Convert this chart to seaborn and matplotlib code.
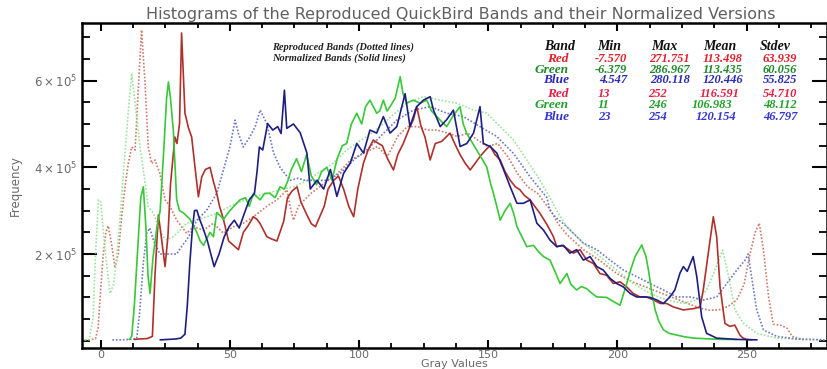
import numpy as np
import pandas as pd
import matplotlib
matplotlib.use("Agg")
import matplotlib.pyplot as plt
import seaborn as sns
from matplotlib.ticker import FixedLocator, FixedFormatter, MultipleLocator

# ---------------- data (frequencies in units of 1e5) ----------------
norm_red_x = [13, 15, 18, 20, 21, 22.3, 23, 24.9, 26, 27, 28.7, 29.5, 30.5, 31.3, 32.6, 34, 35.2, 36.5,
              37.8, 39.1, 40.5, 42.3, 43.5, 44.9, 46, 47.5, 49.5, 51.4, 53.3, 55.2, 57, 59.1, 60.5, 61.7,
              64.3, 66, 68.2, 70.8, 72.3, 74, 76, 77.5, 79.8, 81.5, 83.1, 86.5, 88, 90.2, 92, 94, 96,
              97.9, 99.5, 101.7, 103.5, 105.5, 107.5, 109, 111, 113.3, 115, 117.1, 119.7, 121, 122.3,
              124, 125.5, 127.5, 129.5, 132, 135.2, 137, 139, 141, 143, 145, 146.8, 149, 150.7, 152.5,
              154.6, 156.5, 158.5, 160.5, 162.3, 164, 166.2, 168, 170, 172.5, 173.9, 175.2, 176.5,
              178.5, 180.4, 183, 185.5, 188.1, 190.7, 193.2, 195.8, 198.4, 201, 203.6, 206.1, 208.7,
              211.3, 213.9, 216.5, 219, 221.6, 225.5, 229.4, 232, 233.2, 235.1, 237.1, 238.4, 239.7,
              241.6, 243.5, 245.4, 247.4, 248.6, 250, 252]
norm_red_y = [0.03, 0.04, 0.05, 0.1, 1.5, 2.9, 2.6, 1.71, 2.4, 3.6, 4.7, 4.55, 5.0, 7.1, 5.25, 4.9, 4.7, 4.0,
              3.32, 3.78, 3.95, 4.0, 3.7, 3.4, 3.1, 2.8, 2.3, 2.2, 2.1, 2.5, 2.65, 2.86, 2.8, 2.7,
              2.4, 2.35, 2.3, 2.75, 3.3, 3.45, 3.55, 3.2, 2.9, 2.7, 2.63, 3.1, 3.5, 3.7, 3.8, 3.5, 3.1,
              2.86, 3.5, 4.1, 4.4, 4.63, 4.55, 4.5, 4.2, 3.94, 4.3, 4.55, 4.94, 5.1, 5.4,
              4.94, 4.7, 4.17, 4.55, 4.6, 4.79, 4.55, 4.3, 4.1, 3.94, 4.1, 4.25, 4.4, 4.5, 4.3,
              4.17, 3.9, 3.7, 3.55, 3.48, 3.35, 3.25, 3.1, 2.94, 2.7, 2.55, 2.4, 2.17,
              2.2, 2.13, 2.02, 2.1, 1.86, 1.78, 1.55, 1.51, 1.32, 1.36, 1.24, 1.09, 1.01,
              1.01, 0.94, 0.86, 0.86, 0.78, 0.71, 0.74, 0.78, 1.17, 2.0, 2.86, 2.4, 1.25,
              0.4, 0.33, 0.36, 0.13, 0.06, 0.03, 0.02]

norm_green_x = [11, 12, 13, 14.5, 15.5, 16.5, 17.5, 18.3, 19.1, 20.2, 21.7, 23, 24.5, 25.5, 26.2, 27, 28.1,
                29.4, 30.5, 32, 34.6, 37.2, 38.5, 39.8, 41, 42.3, 43.6, 44.9, 46, 47.5, 50, 51.5, 53.9,
                56, 57.5, 59.1, 61.7, 63.5, 65.5, 67.5, 69.4, 71.1, 72.5, 73.7, 75.8, 77.7, 79.7, 81.5,
                83.5, 85.5, 87.5, 89.5, 91.5, 93.5, 95.2, 97, 99.1, 101, 102.5, 104.2, 106.8, 108,
                109.4, 110.8, 112, 114, 115.9, 117, 118.4, 121, 123.6, 126.2, 128, 130.1, 132, 133.9,
                136.5, 139.1, 140.3, 141.7, 143.5, 145.5, 147.5, 149.4, 151, 152, 153.3, 154.6, 156.5,
                158.5, 160, 161.1, 163, 164.9, 167.5, 169.5, 171.4, 173.9, 175.8, 177.8, 180.4, 182,
                184.2, 186, 188.1, 190, 192, 195.8, 198.5, 201, 203.6, 205.2, 206.8, 209.4, 211, 212,
                213.3, 214.6, 216, 217.8, 220, 223, 226, 229.5, 236, 241, 246]
norm_green_y = [0.03, 0.1, 0.8, 2.3, 3.3, 3.55, 2.6, 1.5, 1.09, 1.9, 2.6, 3.0, 4.5, 5.6, 5.97, 5.6, 4.85,
                3.25, 3.0, 2.95, 2.8, 2.5, 2.3, 2.2, 2.35, 2.5, 2.4, 2.95, 2.9, 2.8, 3.0, 3.1, 3.25,
                3.3, 3.1, 3.4, 3.25, 3.4, 3.4, 3.3, 3.55, 3.5, 3.7, 3.94, 4.2, 3.9, 4.3, 3.8,
                3.6, 3.9, 4.0, 3.7, 4.2, 4.5, 4.55, 5.0, 5.25, 5.0, 5.4, 5.55, 5.25, 5.3,
                5.55, 5.3, 5.4, 5.6, 6.09, 5.7, 5.48, 5.55, 5.48, 5.55, 5.3, 5.17, 5.05, 4.94,
                5.2, 5.4, 5.0, 4.78, 4.6, 4.4, 4.2, 4.01, 3.6, 3.4, 3.1, 2.78, 3.0,
                3.17, 2.9, 2.63, 2.4, 2.17, 2.2, 2.05, 1.94, 1.86, 1.6, 1.32, 1.55, 1.3,
                1.17, 1.25, 1.2, 1.1, 1.01, 1.0, 0.9, 0.82, 1.32, 1.65, 1.94, 2.21, 1.95, 1.63,
                1.1, 0.71, 0.45, 0.25, 0.17, 0.13, 0.09, 0.06, 0.04, 0.03, 0.03]

norm_blue_x = [23, 26, 29, 31, 32.6, 33.5, 34.5, 35.5, 36.3, 37.2, 38.3, 39.4, 41.3, 43.9, 45.8, 47.8, 49.7,
               51.7, 53.6, 55.6, 57.5, 59.5, 60.5, 61.4, 62.7, 64.6, 66.6, 68.5, 69.8, 71.1, 72, 74.6,
               77.2, 79.8, 81.1, 83.7, 86.3, 88.9, 91.4, 94, 96.6, 99.1, 101.7, 104.2, 106.8, 109.4,
               112, 114.6, 117.8, 119.7, 122.3, 124.9, 127.5, 128.8, 131.4, 133.9, 136.5, 139.1, 141.7,
               144.3, 146.8, 148.1, 150.7, 153.3, 155.9, 158.5, 161.1, 163.6, 166.2, 168.8, 171.4,
               173.9, 176.5, 179.1, 181.6, 184.2, 186.8, 189.4, 192, 194.5, 197.1, 199.7, 202.3, 204.9,
               207.4, 210, 212.6, 215.2, 217.8, 220.3, 222.2, 224.2, 225.5, 227, 229.3, 230.7, 232.6,
               234.5, 238.4, 246.2, 254]
norm_blue_y = [0.02, 0.03, 0.04, 0.06, 0.15, 0.8, 1.8, 2.6, 3.0, 3.01, 2.8, 2.63, 2.3, 1.71, 2.0, 2.4, 2.63,
               2.78, 2.6, 2.94, 3.25, 3.4, 3.9, 4.47, 4.4, 5.01, 4.86, 4.94, 4.78, 5.78, 4.9, 5.0,
               4.8, 4.33, 3.5, 3.7, 3.5, 3.95, 3.33, 3.86, 4.1, 4.55, 4.33, 4.86, 4.79, 5.17,
               4.79, 4.94, 5.7, 4.94, 5.4, 5.55, 5.63, 5.32, 4.94, 5.1, 5.32, 4.48, 4.55,
               4.79, 5.4, 4.55, 4.48, 4.33, 3.95, 3.55, 3.17, 3.17, 3.25, 2.71, 2.55,
               2.32, 2.17, 2.2, 2.02, 2.1, 1.86, 1.94, 1.71, 1.63, 1.44, 1.32, 1.24, 1.09,
               1.01, 1.01, 1.0, 0.94, 0.86, 1.01, 1.17, 1.56, 1.71, 1.6, 1.94, 1.48, 0.55,
               0.17, 0.06, 0.03, 0.02]

repr_red_x = [-7.5, -4, -2, -1, 0, 1, 2, 2.9, 4, 5.5, 6.8, 8, 9.4, 10.7, 12, 13.3, 14.6, 15.8, 17.1, 18.4,
              19.7, 21, 22.9, 24.9, 26.8, 29.4, 33.3, 35.9, 39.8, 43.6, 47.5, 51.4, 55.2, 59.1, 64.3,
              68.2, 72.1, 73.3, 74.6, 76.5, 78, 81.4, 86.5, 91.7, 96.8, 102, 107.1, 111, 114.9, 118.7,
              122.6, 126.5, 130.4, 134.2, 138.1, 142, 145.9, 149.7, 153.6, 157.5, 161.3, 165.2, 169.1,
              174.2, 177, 180.4, 186.8, 193.2, 199.7, 206.1, 212.6, 219, 225.5, 232, 236, 240, 243,
              246.2, 249, 251.3, 253.3, 254.9, 256.5, 258.5, 260.3, 263, 265.6, 267.6, 272]
repr_red_y = [0.02, 0.02, 0.05, 0.3, 1.2, 2.0, 2.5, 2.65, 2.3, 1.71, 2.0, 2.8, 3.55, 4.1, 4.47, 4.4, 5.86, 7.17, 6.0, 4.47,
              4.09, 4.17, 3.86, 3.25, 3.1, 2.78, 2.48, 2.63, 2.55, 2.71, 2.48, 2.63, 2.71, 2.86, 3.1,
              3.25, 3.48, 3.1, 2.78, 3.1, 3.2, 3.4, 3.63, 3.86, 4.17, 4.33, 4.48, 4.25, 4.71, 4.94,
              4.94, 4.86, 4.86, 4.79, 4.71, 4.79, 4.63, 4.48, 4.55, 4.25, 3.86, 3.55, 3.4,
              3.0, 2.7, 2.45, 2.1, 1.85, 1.55, 1.35, 1.2, 1.05, 0.9, 0.75, 0.7, 0.72, 0.8,
              0.94, 1.3, 2.0, 2.5, 2.71, 2.09, 1.01, 0.38, 0.36, 0.29, 0.1, 0.02]

repr_green_x = [-6.4, -4.5, -3, -2, -0.9, 0, 1.5, 3.6, 5, 6, 7.4, 9.4, 10.7, 12, 13.3, 15.2, 16.5, 18.4,
                20.4, 22.3, 24.2, 25.5, 28.1, 30.7, 33.3, 37.2, 41, 44.9, 50, 53.9, 59.1, 64.3, 69.4,
                74.6, 80, 85, 90, 95.2, 100, 104, 108.1, 113, 118.4, 124.9, 131.4, 137.8, 144.3, 149.4,
                154.6, 159.8, 164.9, 170, 173.9, 177, 180.4, 186.8, 193.2, 199.7, 206.1, 212.6, 219,
                225.5, 230.7, 234.5, 237.7, 240.7, 243, 245.5, 248.8, 253.9, 261.7, 271.9, 281]
repr_green_y = [0.02, 0.03, 0.5, 2.0, 3.25, 3.2, 2.2, 1.09, 1.3, 1.8, 2.78, 4.33, 5.3, 6.17, 5.48, 4.47, 3.94, 3.1,
                2.94, 2.63, 2.4, 2.33, 2.4, 2.55, 2.71, 2.78, 2.86, 2.94, 3.1, 3.2, 3.33, 3.4, 3.48,
                3.55, 3.7, 3.9, 4.1, 4.4, 4.6, 4.75, 4.94, 5.2, 5.48, 5.63, 5.55, 5.48, 5.32, 5.25,
                4.94, 4.63, 4.17, 3.7, 3.3, 2.95, 2.63, 2.25, 1.94, 1.63, 1.32, 1.09, 0.94,
                0.86, 0.94, 1.17, 1.63, 2.09, 1.48, 0.71, 0.4, 0.17, 0.06, 0.03, 0.02]

repr_blue_x = [4.5, 8, 11, 13.9, 15, 16.5, 17.8, 19, 20.5, 22.9, 26, 29.4, 31, 33.3, 35, 37.2, 41, 44.9,
               47.5, 50, 52, 53.3, 55.2, 57.8, 59.8, 61.7, 64.3, 66.9, 69.4, 73.3, 76.5, 79, 82.3, 87.5,
               92.7, 97.9, 103, 108.2, 114.6, 121, 127.5, 133.9, 140.4, 146.8, 153.3, 159.8, 166.2,
               172.7, 173.9, 176, 180.4, 186.8, 192, 197.1, 202.3, 207.4, 212.6, 217.8, 222.9, 228.1,
               233.3, 238.4, 242.3, 246.2, 249.4, 250.6, 251.9, 253.9, 256.5, 261.7, 269.4, 275, 280]
repr_blue_y = [0.02, 0.02, 0.03, 0.05, 0.6, 1.8, 2.48, 2.6, 2.3, 2.0, 2.0, 2.0, 2.15, 2.33, 2.5, 2.78, 3.01, 3.4,
               3.94, 4.47, 5.09, 4.78, 4.47, 4.71, 4.94, 5.32, 5.01, 4.33, 4.0, 3.7, 3.75, 3.7, 3.7, 3.7,
               3.86, 4.17, 4.4, 4.71, 5.09, 5.32, 5.4, 5.25, 5.17, 4.94, 4.71, 4.32, 3.78,
               3.3, 3.01, 2.85, 2.63, 2.25, 2.1, 1.86, 1.63, 1.48, 1.32, 1.17, 1.01, 1.01,
               0.94, 1.01, 1.32, 1.63, 1.86, 2.0, 1.48, 0.71, 0.25, 0.1, 0.04, 0.03, 0.02]

table_header = ["Band", "Min", "Max", "Mean", "Stdev"]
band_names = ["Red", "Green", "Blue"]
repr_min = ["-7.570", "-6.379", "4.547"]
repr_max = ["271.751", "286.967", "280.118"]
repr_mean = ["113.498", "113.435", "120.446"]
repr_std = ["63.939", "60.056", "55.825"]
norm_min = ["13", "11", "23"]
norm_max = ["252", "246", "254"]
norm_mean = ["116.591", "106.983", "120.154"]
norm_std = ["54.710", "48.112", "46.797"]

title = "Histograms of the Reproduced QuickBird Bands and their Normalized Versions"
legend_lines = ["Reproduced Bands (Dotted lines)", "Normalized Bands (Solid lines)"]

# ---------------- styling ----------------
sns.set_theme(style="white")
plt.rcParams["font.family"] = ["DejaVu Sans"]
plt.rcParams["mathtext.fontset"] = "dejavusans"

W, H = 828, 369
fig = plt.figure(figsize=(W / 100, H / 100), dpi=100)
left_px, right_px, top_px, bot_px = 81.6, 827.0, 23.0, 348.0
ax = fig.add_axes([left_px / W, (H - bot_px) / H, (right_px - left_px) / W, (bot_px - top_px) / H])

series = [
    (repr_red_x, repr_red_y, "#cf7a68", (0, (1, 1.1))),
    (repr_green_x, repr_green_y, "#9ae39a", (0, (1, 1.1))),
    (repr_blue_x, repr_blue_y, "#6c78c8", (0, (1, 1.1))),
    (norm_red_x, norm_red_y, "#b0302c", "-"),
    (norm_green_x, norm_green_y, "#38c838", "-"),
    (norm_blue_x, norm_blue_y, "#1e1e82", "-"),
]
for xs, ys, col, ls in series:
    df = pd.DataFrame({"gray": xs, "freq": np.asarray(ys) * 1e5})
    sns.lineplot(data=df, x="gray", y="freq", ax=ax, color=col, linestyle=ls,
                 linewidth=1.2, estimator=None, sort=False)

ax.set_xlim(-7.4, 281.1)
ax.set_ylim(-0.168e5, 7.33e5)

for s in ax.spines.values():
    s.set_visible(True)
    s.set_color("black")
    s.set_linewidth(1.8)

ax.xaxis.set_major_locator(FixedLocator([0, 50, 100, 150, 200, 250]))
ax.xaxis.set_minor_locator(MultipleLocator(12.5))
ax.yaxis.set_major_locator(FixedLocator([2e5, 4e5, 6e5]))
ax.yaxis.set_major_formatter(FixedFormatter([r"$2\times10^{5}$", r"$4\times10^{5}$", r"$6\times10^{5}$"]))
ax.yaxis.set_minor_locator(MultipleLocator(0.5e5))

ax.tick_params(axis="x", which="major", direction="in", length=6, width=1.5, top=True, bottom=True,
               labelsize=8, labelcolor="#6a6a6a", pad=1.5, color="black")
ax.tick_params(axis="x", which="minor", direction="in", length=3.5, width=1.3, top=True, bottom=True,
               color="black")
ax.tick_params(axis="y", which="major", direction="in", length=11, width=1.5, left=True, right=True,
               labelsize=8.5, labelcolor="#6a6a6a", pad=3, color="black")
ax.tick_params(axis="y", which="minor", direction="in", length=6, width=1.3, left=True, right=True,
               color="black")

ax.set_xlabel("Gray Values", fontsize=8, color="#6a6a6a")
ax.xaxis.set_label_coords(0.5, (bot_px - 364) / (bot_px - top_px))
ax.xaxis.label.set_va("center")
ax.set_ylabel("Frequency", fontsize=8.5, color="#6a6a6a", labelpad=9)

fig.text(461 / W, 1 - 14 / H, title, ha="center", va="center", fontsize=11.5, color="#606060")

serif = dict(family="Liberation Serif", weight="bold", style="italic")
fig.text(272 / W, 1 - 46.7 / H, legend_lines[0], ha="left", va="center", fontsize=7.5, color="#222222", **serif)
fig.text(272 / W, 1 - 57.8 / H, legend_lines[1], ha="left", va="center", fontsize=7.5, color="#222222", **serif)

def ftext(x, y, s, color, ha="left", size=9.0):
    fig.text(x / W, 1 - y / H, s, ha=ha, va="center", fontsize=size, color=color, **serif)

hdr_x = [544, 597, 651, 703, 760]
for s, x in zip(table_header, hdr_x):
    ftext(x, 46.7, s, "#111111", size=10.0)

row_cols = ["#e5202a", "#1f8a2a", "#2a2ab8"]
up_y = [59, 69.6, 80]
for i in range(3):
    ftext(569, up_y[i], band_names[i], row_cols[i], ha="right", size=9.6)
    ftext(627, up_y[i], repr_min[i], row_cols[i], ha="right")
    ftext(690, up_y[i], repr_max[i], row_cols[i], ha="right")
    ftext(743, up_y[i], repr_mean[i], row_cols[i], ha="right")
    ftext(797, up_y[i], repr_std[i], row_cols[i], ha="right")

low_y = [94, 105, 117]
low_cols = ["#e52045", "#22a02a", "#3535d0"]
mean_left = [700, 692, 696]
for i in range(3):
    ftext(569, low_y[i], band_names[i], low_cols[i], ha="right", size=9.6)
    ftext(598, low_y[i], norm_min[i], low_cols[i])
    ftext(648, low_y[i], norm_max[i], low_cols[i])
    ftext(mean_left[i], low_y[i], norm_mean[i], low_cols[i])
    ftext(763, low_y[i], norm_std[i], low_cols[i])

fig.savefig("out.png", dpi=100)
